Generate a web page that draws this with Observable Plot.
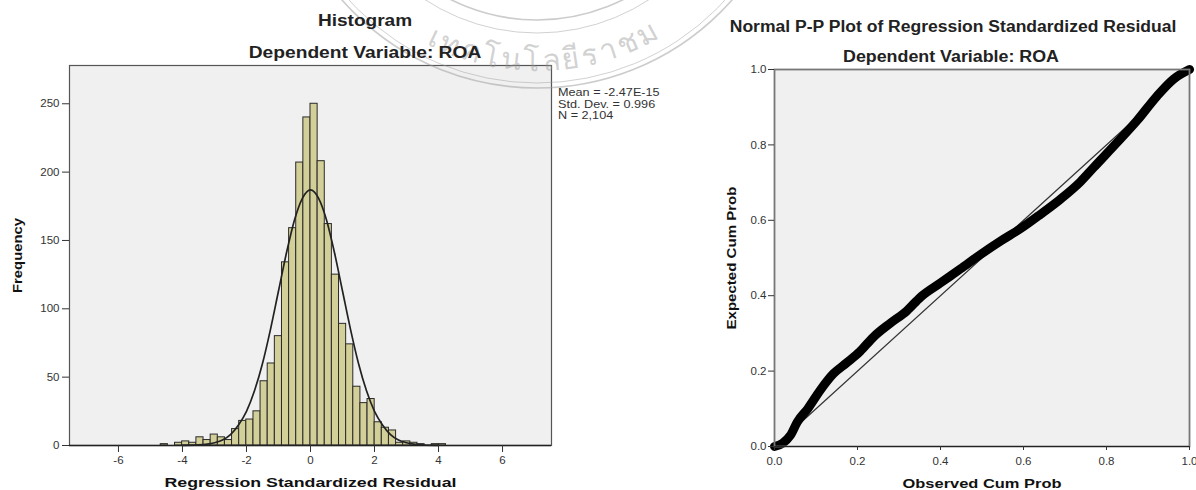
<!DOCTYPE html>
<html><head><meta charset="utf-8">
<script src="https://cdn.jsdelivr.net/npm/d3@7"></script>
<script src="https://cdn.jsdelivr.net/npm/@observablehq/plot@0.6"></script>
<style>
html,body{margin:0;padding:0;background:#fff;overflow:hidden}
#page{position:relative;width:1196px;height:490px;overflow:hidden;font-family:"Liberation Sans",Arial,sans-serif}
#page>svg{position:absolute;top:0}
.t{position:absolute;white-space:nowrap;font-weight:bold;font-size:16px;color:#222}
.s{position:absolute;left:558px;white-space:nowrap;font-size:11.5px;color:#333;transform-origin:left center;transform:translateY(-50%) scaleX(1.1)}
svg text{font-family:"Liberation Sans",Arial,sans-serif}
</style></head><body><div id="page"></div>
<script>
const binStarts=[-4.679,-4.456,-4.233,-4.011,-3.788,-3.565,-3.342,-3.119,-2.896,-2.674,-2.451,-2.228,-2.005,-1.782,-1.560,-1.337,-1.114,-0.891,-0.668,-0.446,-0.223,0,0.223,0.446,0.668,0.891,1.114,1.337,1.560,1.782,2.005,2.228,2.451,2.674,2.896,3.119,3.342,3.565,3.788,4.011];
const binEnds=[-4.456,-4.233,-4.011,-3.788,-3.565,-3.342,-3.119,-2.896,-2.674,-2.451,-2.228,-2.005,-1.782,-1.560,-1.337,-1.114,-0.891,-0.668,-0.446,-0.223,0,0.223,0.446,0.668,0.891,1.114,1.337,1.560,1.782,2.005,2.228,2.451,2.674,2.896,3.119,3.342,3.565,3.788,4.011,4.233];
const frequency=[1,0,2,3,2,6,4,8,6,4,12,18,19,25,47,60,80,134,159,207,240,250,208,162,125,89,74,43,31,34,17,13,11,2,3,2,1,0,1,1];
const curveX=[-4,-3.5,-3,-2.75,-2.5,-2.25,-2,-1.75,-1.5,-1.25,-1,-0.75,-0.5,-0.25,0,0.25,0.5,0.75,1,1.25,1.5,1.75,2,2.25,2.5,2.75,3,3.5,4];
const curveY=[0.1,0.4,2,4,8,15,25,40,60,85,113,141,165,181,187,181,165,141,113,85,60,40,25,15,8,4,2,0.4,0.1];
const histXTicks=[-6,-4,-2,0,2,4,6];
const histYTicks=[0,50,100,150,200,250];
const ppObserved=[0,0.02,0.038,0.055,0.08,0.11,0.142,0.174,0.206,0.238,0.279,0.319,0.352,0.4,0.448,0.496,0.545,0.593,0.641,0.689,0.737,0.769,0.826,0.874,0.922,0.962,1];
const ppExpected=[0,0.009,0.029,0.065,0.1,0.149,0.193,0.222,0.252,0.29,0.327,0.36,0.3965,0.434,0.471,0.509,0.545,0.578,0.616,0.656,0.702,0.74,0.807,0.865,0.93,0.975,1];
const ppTicks=[0,0.2,0.4,0.6,0.8,1];
const refLine=[0,1];
const statLines=["Mean = -2.47E-15","Std. Dev. = 0.996","N = 2,104"];
const titles=[["Histogram",365,21,1.19],["Dependent Variable: ROA",365,53,1.2],["Normal P-P Plot of Regression Standardized Residual",953,27,1.095],["Dependent Variable: ROA",951,57,1.114]];
const sealText="เทคโนโลยีราชม";

const page=document.getElementById("page");
const axisStyle={fontSize:"11.5px",color:"#333",background:"transparent",overflow:"visible"};
const bins=frequency.map((f,i)=>({a:binStarts[i],b:binEnds[i],f}));
const curve=curveX.map((x,i)=>({x,y:curveY[i]}));
const hist=Plot.plot({width:600,height:490,marginLeft:69,marginRight:49,marginTop:65,marginBottom:45,
 style:axisStyle,
 x:{domain:[-7.53,7.53]},y:{domain:[0,278]},
 marks:[
  Plot.frame({fill:"#f0f0f0"}),
  Plot.rectY(bins,{x1:"a",x2:"b",y:"f",fill:"#d3cf98",stroke:"#2a2a2a",strokeWidth:1}),
  Plot.line(curve,{x:"x",y:"y",curve:"monotone-x",stroke:"#222",strokeWidth:1.7}),
  Plot.frame({stroke:"#555",strokeWidth:1.2}),
  Plot.ruleY([0],{stroke:"#222",strokeWidth:1.5}),
  Plot.axisX({ticks:histXTicks,tickSize:7,tickPadding:3,tickFormat:d=>String(d).replace("−","-"),label:"Regression Standardized Residual",labelAnchor:"center",labelArrow:"none",labelOffset:41,fontSize:11.5,stroke:"#333"}),
  Plot.axisY({ticks:histYTicks,tickSize:7,tickPadding:3,label:"Frequency",labelAnchor:"center",labelArrow:"none",labelOffset:57,fontSize:11.5,stroke:"#333"})
 ]});
hist.style.left="0px";page.appendChild(hist);

const pp=ppObserved.map((x,i)=>({x,y:ppExpected[i]}));
const ref=refLine.map(v=>({x:v,y:v}));
const pplot=Plot.plot({width:596,height:490,marginLeft:174,marginRight:7,marginTop:69,marginBottom:44,
 style:axisStyle,
 x:{domain:[0,1]},y:{domain:[0,1]},
 marks:[
  Plot.frame({fill:"#f0f0f0"}),
  Plot.line(ref,{x:"x",y:"y",stroke:"#333",strokeWidth:1.2}),
  Plot.line(pp,{x:"x",y:"y",curve:"monotone-x",stroke:"#000",strokeWidth:9,strokeLinecap:"round"}),
  Plot.frame({stroke:"#777",strokeWidth:1.8}),
  Plot.ruleY([0],{stroke:"#222",strokeWidth:1.2}),
  Plot.axisX({ticks:ppTicks,tickSize:4,tickPadding:6,tickFormat:d3.format(".1f"),label:"Observed Cum Prob",labelAnchor:"center",labelArrow:"none",labelOffset:41,fontSize:11.5,stroke:"#333"}),
  Plot.axisY({ticks:ppTicks,tickSize:6,tickPadding:2,tickFormat:d3.format(".1f"),label:"Expected Cum Prob",labelAnchor:"center",labelArrow:"none",labelOffset:48,fontSize:11.5,stroke:"#333"})
 ]});
pplot.style.left="600px";page.appendChild(pplot);

const labelLengths={"Regression Standardized Residual":292,"Frequency":75,"Observed Cum Prob":159,"Expected Cum Prob":143};
for(const svg of [hist,pplot]) svg.querySelectorAll("text").forEach(el=>{
  const n=labelLengths[el.textContent];
  if(n){el.setAttribute("textLength",n);el.setAttribute("lengthAdjust","spacingAndGlyphs");el.style.fontWeight="bold";el.style.fontSize="13.5px";el.style.fill="#111";}
});

// faint seal watermark, under the titles
const wm=d3.select(page).append("svg").attr("width",1196).attr("height",490).style("left","0px").style("pointer-events","none");
[[260,1.6],[255,0.9],[205,0.9],[192,1.6]].forEach(([r,w])=>wm.append("circle").attr("cx",537).attr("cy",-172).attr("r",r).attr("fill","none").attr("stroke","#999").attr("stroke-opacity",0.5).attr("stroke-width",w));
const a=243*Math.sin(50*Math.PI/180),b=243*Math.cos(50*Math.PI/180);
wm.append("path").attr("id","sealArc").attr("fill","none").attr("d",`M${537-a},${-172+b}A243,243 0 0 0 ${537+a},${-172+b}`);
wm.append("text").attr("font-size",30).attr("fill","#999").attr("fill-opacity",0.45).style("font-family",'"Noto Sans","DejaVu Sans",sans-serif').attr("text-anchor","middle").attr("letter-spacing",3)
  .append("textPath").attr("href","#sealArc").attr("startOffset","52%").text(sealText);

titles.forEach(([t,x,y,k])=>{
 const d=document.createElement("div");d.className="t";d.textContent=t;d.style.left=x+"px";d.style.top=y+"px";
 d.style.transform=`translate(-50%,-50%) scaleX(${k})`;page.appendChild(d);});
statLines.forEach((t,i)=>{const d=document.createElement("div");d.className="s";d.textContent=t;d.style.top=(92+11.5*i)+"px";page.appendChild(d);});
</script></body></html>
